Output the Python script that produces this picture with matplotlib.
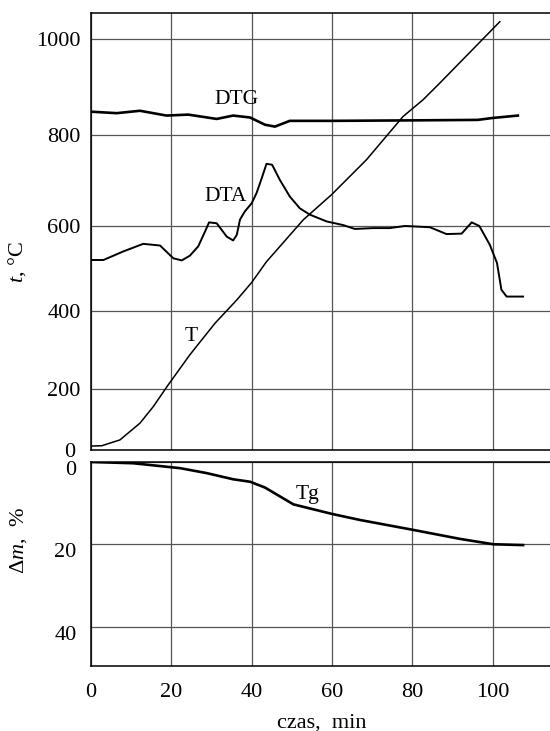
import numpy as np
import matplotlib
matplotlib.use("Agg")
import matplotlib.pyplot as plt
from matplotlib.transforms import ScaledTranslation

plt.rcParams['font.family'] = ['Liberation Serif', 'DejaVu Serif']
plt.rcParams['mathtext.fontset'] = 'custom'
plt.rcParams['mathtext.it'] = 'Liberation Serif:italic'
plt.rcParams['mathtext.rm'] = 'Liberation Serif'

# T - temperature of the furnace, degC
t_time = [0.2, 2.7, 7.2, 12.2, 15.5, 19.2, 24.6, 30.9, 36.3, 40.0, 43.7,
          52.9, 59.9, 68.6, 77.7, 82.7, 86.9, 101.8]
t_temp = [13, 14, 33, 88, 142, 210, 287, 368, 425, 466, 515,
          613, 668, 745, 838, 873, 908, 1034]

# DTA curve
dta_time = [0.2, 3.1, 8.0, 13.0, 17.2, 20.5, 22.6, 24.6, 26.7, 28.4, 29.4,
            31.3, 33.8, 35.4, 36.3, 37.1, 38.3, 40.0, 41.2, 42.5, 43.7, 45.1,
            47.0, 49.5, 52.0, 54.5, 58.7, 62.8, 65.7, 70.3, 74.4, 78.2, 84.4,
            88.5, 92.3, 94.8, 96.7, 99.3, 101.1, 102.2, 103.5, 107.6]
dta_val = [519, 519, 539, 557, 553, 523, 518, 529, 551, 586, 607,
           605, 574, 565, 578, 613, 631, 649, 671, 704, 736, 734,
           701, 664, 638, 624, 609, 601, 592, 594, 594, 599, 596,
           580, 581, 607, 599, 555, 512, 449, 433, 433]

# DTG curve
dtg_time = [0.2, 6.4, 12.2, 18.8, 24.2, 31.3, 35.4, 39.6, 43.3, 45.8,
            49.5, 60, 80, 96.3, 100, 106.3]
dtg_val = [848, 845, 850, 840, 842, 833, 840, 836, 821, 817,
           829, 829, 830, 831, 835, 840]

# TG - mass loss, %
tg_time = [0.2, 10.5, 22.2, 28.8, 35.4, 39.6, 43.3, 50.4, 59.9, 67.0,
           80.2, 91.9, 100.2, 107.6]
tg_val = [0, 0.3, 1.5, 2.7, 4.2, 4.8, 6.2, 10.3, 12.6, 14.1,
          16.5, 18.7, 20.0, 20.2]

x_ticks = [0, 20, 40, 60, 80, 100]
t_ticks = [0, 200, 400, 600, 800, 1000]
m_ticks = [0, 20, 40]

# the temperature scale of the original drawing is not uniform
scale_vals = [-1000, 0, 200, 400, 600, 800, 1000, 1200, 3000]
scale_pos = [-305, 0, 61, 139.3, 224.3, 315, 411, 511, 1411]


def fwd(v):
    return np.interp(v, scale_vals, scale_pos)


def inv(p):
    return np.interp(p, scale_pos, scale_vals)


W, H = 550, 731
fig = plt.figure(figsize=(W / 100, H / 100), dpi=100)
left = 91 / W
width = 1 - left
ax1 = fig.add_axes([left, 1 - 450 / H, width, (450 - 12.7) / H])
ax2 = fig.add_axes([left, 1 - 666 / H, width, (666 - 462) / H])

grid_kw = dict(color='#555555', lw=0.9)

ax1.set_yscale('function', functions=(fwd, inv))
ax1.plot(t_time, t_temp, color='black', lw=1.1)
ax1.plot(dta_time, dta_val, color='black', lw=1.4)
ax1.plot(dtg_time, dtg_val, color='black', lw=1.9)
ax1.set_xlim(0, 114.3)
ax1.set_ylim(0, 1052)
ax1.set_yticks(t_ticks)
ax1.set_xticks(x_ticks)
ax1.tick_params(axis='x', labelbottom=False)
ax1.grid(True, **grid_kw)
ax1.text(36.3, 873, 'DTG', fontsize=15.5, ha='center', va='center')
ax1.text(33.4, 665, 'DTA', fontsize=15.5, ha='center', va='center')
ax1.text(25, 333, 'T', fontsize=15.5, ha='center', va='center')

ax2.plot(tg_time, tg_val, color='black', lw=1.9)
ax2.set_xlim(0, 114.3)
ax2.set_ylim(49.6, 0)
ax2.set_yticks(m_ticks)
ax2.set_xticks(x_ticks)
ax2.grid(True, **grid_kw)
ax2.text(54, 7.8, 'Tg', fontsize=15.5, ha='center', va='center')

for ax in (ax1, ax2):
    ax.set_axisbelow(True)
    ax.spines['right'].set_visible(False)
    for s in ('left', 'top', 'bottom'):
        ax.spines[s].set_linewidth(1.1)
    ax.tick_params(length=0, labelsize=16)

ax1.tick_params(axis='y', pad=7.5)
ax2.tick_params(axis='y', pad=10.5)
ax2.tick_params(axis='x', pad=12)

# lower axis labels sit a bit below their grid lines
shift = ScaledTranslation(0, -0.06, fig.dpi_scale_trans)
for tick in ax2.yaxis.get_major_ticks():
    tick.label1.set_transform(tick.label1.get_transform() + shift)

# the upper zero is pushed a little to the left
zero_lab = ax1.yaxis.get_major_ticks()[0].label1
zero_lab.set_transform(zero_lab.get_transform() +
                       ScaledTranslation(-0.05, 0, fig.dpi_scale_trans))

fig.text(17 / W, 1 - 262 / H, '$t$, °C', rotation=90, fontsize=16,
         ha='center', va='center')
fig.text(19 / W, 1 - 541 / H, 'Δ$m$,  %', rotation=90, fontsize=16,
         ha='center', va='center')
fig.text(322 / W, 1 - 723 / H, 'czas,  min', fontsize=16,
         ha='center', va='center')

fig.savefig('out.png', dpi=100)
